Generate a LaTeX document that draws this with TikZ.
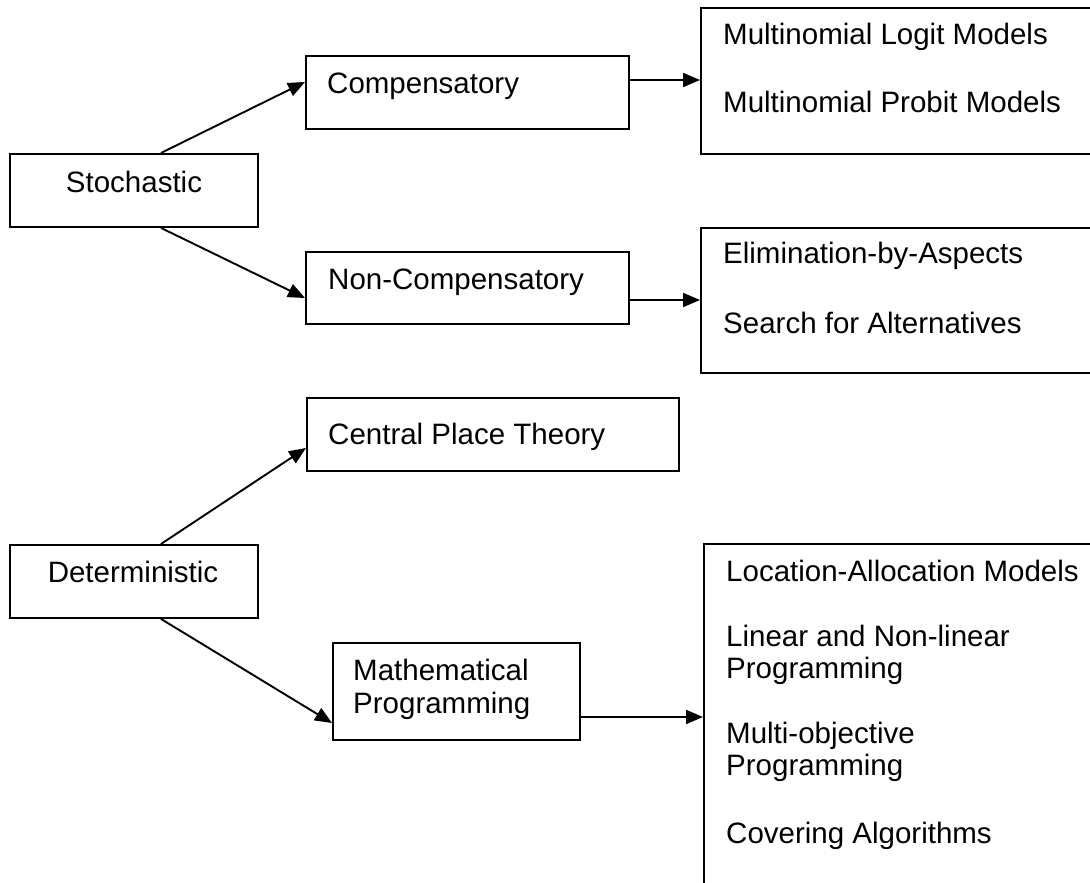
\documentclass[tikz,border=0pt]{standalone}
\usepackage{fontspec}
\setmainfont{Liberation Sans}
\usetikzlibrary{arrows.meta}

\tikzset{
  box/.style={draw, line width=1.9pt, inner sep=0pt, anchor=north west},
  txt/.style={inner sep=0pt, font=\fontsize{29.5pt}{33pt}\selectfont},
  arr/.style={line width=1.9pt, -{Triangle[length=17pt,width=14pt]}},
}

\begin{document}
\begin{tikzpicture}[x=1pt, y=-1pt]
  \useasboundingbox (0,0) rectangle (1090,883);
  \clip (0,0) rectangle (1090,883);

  % left column
  \node[box, minimum width=248pt, minimum height=73pt] (stoch) at (9,153) {};
  \node[box, minimum width=248pt, minimum height=73pt] (det)   at (9,544) {};

  % middle column
  \node[box, minimum width=323pt, minimum height=73pt] (comp) at (305,55)  {};
  \node[box, minimum width=323pt, minimum height=72pt] (nonc) at (305,251) {};
  \node[box, minimum width=372pt, minimum height=73pt] (cpt)  at (306,397) {};
  \node[box, minimum width=247pt, minimum height=97pt] (math) at (332,642) {};

  % right column (boxes run past the right and bottom edges)
  \node[box, minimum width=420pt, minimum height=146pt] (mods)  at (700,7)   {};
  \node[box, minimum width=420pt, minimum height=145pt] (elim)  at (700,227) {};
  \node[box, minimum width=420pt, minimum height=400pt] (progs) at (703,543) {};

  % labels
  \node[txt, anchor=base] (tstoch) at (134,192) {Stochastic};
  \node[txt, anchor=base] (tdet)   at (133,582) {Deterministic};
  \node[txt, anchor=base west] (tcomp) at (327,93)  {Compensatory};
  \node[txt, anchor=base west] (tnonc) at (328,289) {Non-Compensatory};
  \node[txt, anchor=base west] (tcpt)  at (328,444) {Central Place Theory};
  \node[txt, anchor=base west] (tmath1) at (353,680) {Mathematical};
  \node[txt, anchor=base west] (tmath2) at (353,713) {Programming};

  \node[txt, anchor=base west] (tlogit)  at (723,45)  {Multinomial Logit Models};
  \node[txt, anchor=base west] (tprobit) at (723,113) {Multinomial Probit Models};
  \node[txt, anchor=base west] (teba)    at (723,263) {Elimination-by-Aspects};
  \node[txt, anchor=base west] (tsearch) at (723,333) {Search for Alternatives};

  \node[txt, anchor=base west] (tloc)  at (726,581) {Location-Allocation Models};
  \node[txt, anchor=base west] (tlin1) at (726,646) {Linear and Non-linear};
  \node[txt, anchor=base west] (tlin2) at (726,678) {Programming};
  \node[txt, anchor=base west] (tmul1) at (726,743) {Multi-objective};
  \node[txt, anchor=base west] (tmul2) at (726,775) {Programming};
  \node[txt, anchor=base west] (tcov)  at (726,843) {Covering Algorithms};

  % branching connectors
  \draw[arr] ([xshift=27pt]stoch.north) -- ([yshift=-27pt]comp.north west);
  \draw[arr] ([xshift=27pt]stoch.south) -- ([yshift=-47pt]nonc.north west);
  \draw[arr] ([xshift=27pt]det.north)   -- ([yshift=-51pt]cpt.north west);
  \draw[arr] ([xshift=27pt]det.south)   -- ([yshift=-81pt]math.north west);

  % horizontal connectors into the lists
  \coordinate (c1) at ([yshift=-25pt]comp.north east);
  \coordinate (c2) at ([yshift=-49pt]nonc.north east);
  \coordinate (c3) at ([yshift=-75pt]math.north east);
  \draw[arr] (c1) -- (c1 -| mods.west);
  \draw[arr] (c2) -- (c2 -| elim.west);
  \draw[arr] (c3) -- (c3 -| progs.west);
\end{tikzpicture}
\end{document}
